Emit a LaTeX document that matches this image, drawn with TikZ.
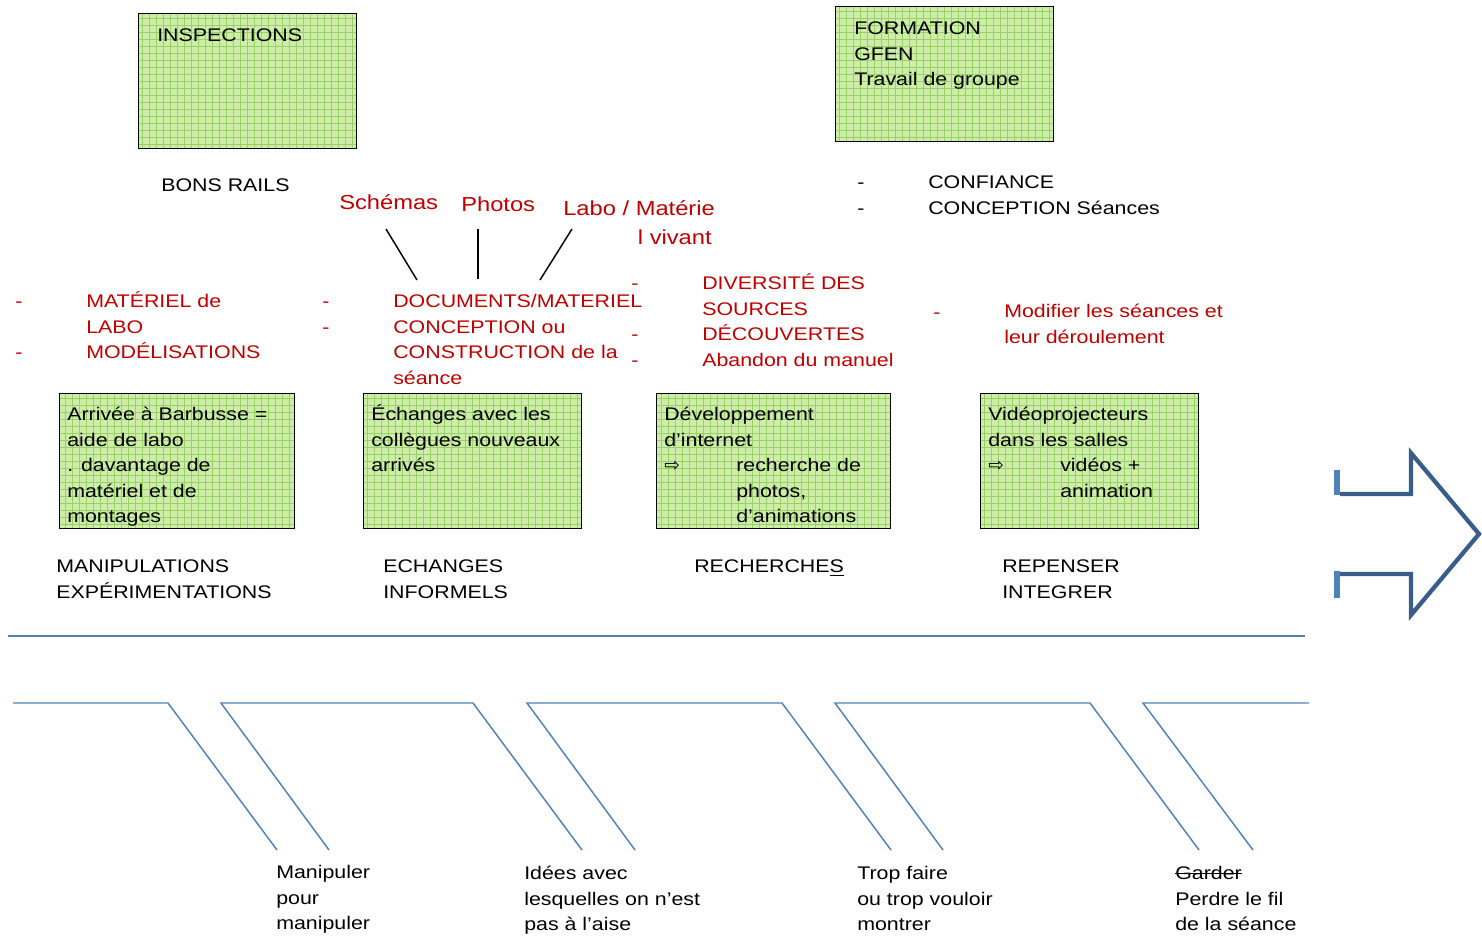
\documentclass[tikz,border=0pt]{standalone}
\usepackage{fontspec}
\setmainfont{Liberation Sans}[FakeStretch=1.17]
\newfontfamily\symbfont{DejaVu Sans}
\definecolor{docred}{RGB}{192,0,0}
\definecolor{boneblue}{RGB}{79,129,189}
\definecolor{arrowblue}{RGB}{56,93,138}
\definecolor{boxgreen}{RGB}{206,236,170}
\definecolor{gridgreen}{RGB}{152,210,100}
\newcommand\strikeword[1]{\setbox0\hbox{#1}\rlap{\rule[0.3em]{\wd0}{0.07em}}\box0}
\newcommand\tabarrow{\makebox[54pt][l]{\symbfont\fontsize{14}{14}\selectfont ⇨}}
\newcommand\tabgap{\hspace*{54pt}}
% strut for the first line of a node
\newcommand\fs{\rule{0pt}{0.95em}}

\begin{document}
\begin{tikzpicture}[x=0.75pt, y=-0.75pt,
  txt/.style={anchor=north west, inner sep=0pt, align=left,
    font=\fontsize{13.7}{19.1}\selectfont, execute at begin node={\fs}},
  redtxt/.style={txt, text=docred},
  biglabel/.style={txt, text=docred, font=\fontsize{15.2}{21.8}\selectfont},
  greenbox/.style={draw=black, line width=0.8pt, fill=boxgreen, anchor=north west, inner sep=0pt,
    minimum height=101.25pt,
    path picture={\draw[gridgreen, line width=0.4pt] (path picture bounding box.south west)
      grid[step=5.25pt] (path picture bounding box.north east);}},
  bone/.style={boneblue, line width=1.1pt},
  connector/.style={black, line width=1.1pt}]
  \useasboundingbox (0,0) rectangle (1482,937);

  % top boxes
  \node[name=inspbox, greenbox, minimum width=163.5pt] at (138,13) {};
  \node[name=insp, txt] at ([shift={(19,11.2)}]inspbox.north west) {INSPECTIONS};
  \node[name=formbox, greenbox, minimum width=163.5pt] at (835,6) {};
  \node[name=form, txt] at ([shift={(19,11.2)}]formbox.north west) {\fs FORMATION\\GFEN\\Travail de groupe};

  \node[name=rails, txt] at (161,174.2) {BONS RAILS};
  \node[name=confdash, txt] at (857,171.2) {\fs -\\-};
  \node[name=conf, txt] at (928,171.2) {\fs CONFIANCE\\CONCEPTION Séances};

  % red labels
  \node[name=schemas, biglabel] at (339,190) {Schémas};
  \node[name=photos, biglabel] at (461,192) {Photos};
  \node[name=labo, biglabel] at (563,196) {\fs Labo / Matérie\\\hspace*{56pt}l vivant};

  \node[name=matdash, redtxt] at (15,290.2) {\fs -\\~\\-};
  \node[name=materiel, redtxt] at (86,290.2) {\fs MATÉRIEL de\\LABO\\MODÉLISATIONS};
  \node[name=docdash, redtxt] at (322,290.2) {\fs -\\-};
  \node[name=documents, redtxt] at (393,290.2) {\fs DOCUMENTS/MATERIEL\\CONCEPTION ou\\CONSTRUCTION de la\\séance};
  \node[name=divdash, redtxt] at (631,272.2) {\fs -\\~\\-\\-};
  \node[name=diversite, redtxt] at (702,272.2) {\fs DIVERSITÉ DES\\SOURCES\\DÉCOUVERTES\\Abandon du manuel};
  \node[name=moddash, redtxt] at (933,301.2) {-};
  \node[name=modifier, redtxt] at (1004,300.2) {\fs Modifier les séances et\\leur déroulement};

  \coordinate (s1) at (386,229); \coordinate (d1) at (417,280);
  \coordinate (s2) at (478,229); \coordinate (d2) at (478,279);
  \coordinate (s3) at (572,229); \coordinate (d3) at (540,280);
  \draw[connector] (s1) -- (d1);
  \draw[connector] (s2) -- (d2);
  \draw[connector] (s3) -- (d3);

  % middle boxes
  \node[name=arrbox, greenbox, minimum width=176.25pt] at (59,393) {};
  \node[name=arr, txt] at ([shift={(8,10.2)}]arrbox.north west) {\fs Arrivée à Barbusse =\\aide de labo\\. davantage de\\matériel et de\\montages};
  \node[name=echbox, greenbox, minimum width=163.5pt] at (363,393) {};
  \node[name=ech, txt] at ([shift={(8,10.2)}]echbox.north west) {\fs Échanges avec les\\collègues nouveaux\\arrivés};
  \node[name=intbox, greenbox, minimum width=175.5pt] at (656,393) {};
  \node[name=int, txt] at ([shift={(8,10.2)}]intbox.north west) {\fs Développement\\d’internet\\\tabarrow recherche de\\\tabgap photos,\\\tabgap d’animations};
  \node[name=vidbox, greenbox, minimum width=163.5pt] at (980,393) {};
  \node[name=vid, txt] at ([shift={(8,10.2)}]vidbox.north west) {\fs Vidéoprojecteurs\\dans les salles\\\tabarrow vidéos +\\\tabgap animation};

  \node[name=manip, txt] at (56,555.2) {\fs MANIPULATIONS\\EXPÉRIMENTATIONS};
  \node[name=informels, txt] at (383,555.2) {\fs ECHANGES\\INFORMELS};
  \node[name=recherches, txt] at (694,555.2) {RECHERCHE\underline{S}};
  \node[name=repenser, txt] at (1002,555.2) {\fs REPENSER\\INTEGRER};

  % arrow
  \draw[boneblue, line width=4pt] (1337,470) -- (1337,495);
  \draw[boneblue, line width=4pt] (1337,571) -- (1337,598);
  \draw[arrowblue, line width=3.2pt, line join=miter]
    (1340,494) -- (1411,494) -- (1411,453) -- (1479,534) -- (1411,615) -- (1411,574) -- (1340,574);

  % fishbone
  \draw[bone] (8,636) -- (1305,636);
  \draw[bone] (13,703) -- (168,703) -- (277,850);
  \foreach \a/\b in {221/473, 527/782, 835/1090}
    \draw[bone] (\a+108,850) -- (\a,703) -- (\b,703) -- (\b+109,850);
  \draw[bone] (1253,850) -- (1143,703) -- (1309,703);

  \node[name=manipuler, txt] at (276,861.2) {\fs Manipuler\\pour\\manipuler};
  \node[name=idees, txt] at (524,862.2) {\fs Idées avec\\lesquelles on n’est\\pas à l’aise};
  \node[name=tropfaire, txt] at (857,862.2) {\fs Trop faire\\ou trop vouloir\\montrer};
  \node[name=perdre, txt] at (1175,862.2) {\fs\strikeword{Garder}\\Perdre le fil\\de la séance};
\end{tikzpicture}
\end{document}
